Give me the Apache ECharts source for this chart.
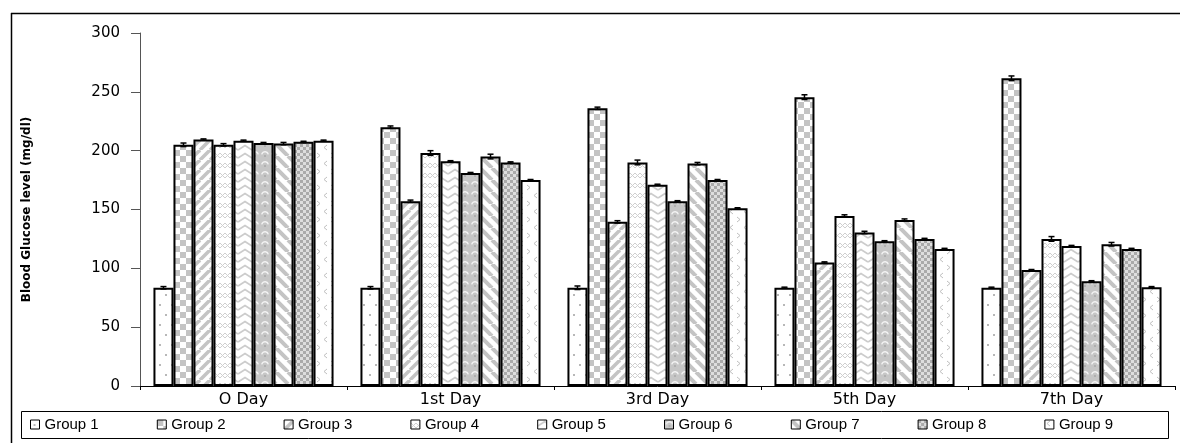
<!DOCTYPE html>
<html>
<head>
<meta charset="utf-8">
<script src="https://cdn.jsdelivr.net/npm/echarts@6/dist/echarts.min.js"></script>
<style>
html,body{margin:0;padding:0;background:#fff;}
#chart{width:1180px;height:443px;}
</style>
</head>
<body>
<div id="chart"></div>
<script>
const categories = ['O Day', '1st Day', '3rd Day', '5th Day', '7th Day'];
const groups = ['Group 1', 'Group 2', 'Group 3', 'Group 4', 'Group 5', 'Group 6', 'Group 7', 'Group 8', 'Group 9'];
const yTicks = [0, 50, 100, 150, 200, 250, 300];
const yAxisTitle = 'Blood Glucose level (mg/dl)';

const group1 = [83.5, 83.5, 83.5, 83.5, 83.5];
const group2 = [205, 220, 236, 245.5, 261.5];
const group3 = [209.5, 157, 139.5, 105, 98.5];
const group4 = [205, 198, 190, 144.5, 125];
const group5 = [208.5, 191, 171, 130.5, 119];
const group6 = [206.5, 181, 157, 123, 89];
const group7 = [206, 195, 189, 141, 120.5];
const group8 = [207.5, 190, 175, 125, 116.5];
const group9 = [208.5, 175, 151, 116.5, 84];

const err1 = [1, 1, 1.5, 0.5, 0.5];
const err2 = [1.5, 1, 1, 2, 2];
const err3 = [0.5, 1, 1, 0.5, 0.5];
const err4 = [1, 2, 2, 1, 2];
const err5 = [0.5, 0.5, 0.5, 1, 0.5];
const err6 = [0.5, 0.5, 0.5, 0.5, 0.5];
const err7 = [1, 2, 1, 1, 1.5];
const err8 = [0.5, 0.5, 0.5, 0.5, 0.5];
const err9 = [0.5, 0.5, 0.5, 0.5, 0.5];

const values = [group1, group2, group3, group4, group5, group6, group7, group8, group9];
const errors = [err1, err2, err3, err4, err5, err6, err7, err8, err9];

function tile(w, h, draw) {
  const c = document.createElement('canvas');
  c.width = w; c.height = h;
  const ctx = c.getContext('2d');
  ctx.fillStyle = '#fff';
  ctx.fillRect(0, 0, w, h);
  draw(ctx, w, h);
  return { image: c, repeat: 'repeat' };
}
const G = '#c4c4c4';
const patterns = [
  tile(12, 20, (x) => { x.fillStyle = '#b8b8b8'; x.fillRect(3, 4, 2, 2); x.fillRect(9, 14, 2, 2); }),
  tile(12, 12, (x) => { x.fillStyle = G; x.fillRect(0, 0, 6, 6); x.fillRect(6, 6, 6, 6); }),
  tile(10, 10, (x) => { x.strokeStyle = G; x.lineWidth = 3.5; for (let k = -10; k <= 20; k += 10) { x.beginPath(); x.moveTo(k, 10); x.lineTo(k + 10, 0); x.stroke(); } }),
  tile(10, 10, (x) => { x.strokeStyle = '#cfcfcf'; x.lineWidth = 1; x.beginPath(); x.moveTo(0, 8); x.lineTo(5, 3); x.lineTo(10, 8); x.stroke(); x.beginPath(); x.moveTo(0, 3); x.lineTo(5, 8); x.lineTo(10, 3); x.stroke(); }),
  tile(14, 8, (x) => { x.strokeStyle = '#cccccc'; x.lineWidth = 1.8; x.beginPath(); x.moveTo(0, 6); x.lineTo(7, 1.5); x.lineTo(14, 6); x.stroke(); }),
  tile(10, 10, (x) => { x.fillStyle = '#c6c6c6'; x.fillRect(0, 0, 10, 10); x.strokeStyle = '#f2f2f2'; x.lineWidth = 1.5; x.beginPath(); x.arc(5, 5, 3.3, Math.PI * 1.05, Math.PI * 1.95); x.stroke(); x.fillStyle = '#b0b0b0'; x.fillRect(4, 5, 2, 2); }),
  tile(12, 12, (x) => { x.strokeStyle = G; x.lineWidth = 4; for (let k = -12; k <= 24; k += 12) { x.beginPath(); x.moveTo(k, 0); x.lineTo(k + 12, 12); x.stroke(); } }),
  tile(6, 6, (x) => { x.fillStyle = '#aaaaaa'; x.fillRect(0, 0, 3, 3); x.fillRect(3, 3, 3, 3); x.fillStyle = '#dedede'; x.fillRect(3, 0, 3, 3); x.fillRect(0, 3, 3, 3); }),
  tile(14, 16, (x) => { x.strokeStyle = '#c0c0c0'; x.lineWidth = 1; x.beginPath(); x.moveTo(5, 1); x.lineTo(2, 3.5); x.lineTo(5, 6); x.stroke(); x.beginPath(); x.moveTo(9, 9); x.lineTo(12, 11.5); x.lineTo(9, 14); x.stroke(); })
];

const GAP = 0.13;
const barSeries = groups.map((g, i) => ({
  name: g,
  type: 'bar',
  data: values[i],
  barGap: 0,
  barCategoryGap: (GAP * 100) + '%',
  itemStyle: { color: patterns[i], borderColor: '#000', borderWidth: 2 },
  emphasis: { disabled: true },
  z: 2
}));

const errData = [];
values.forEach((arr, si) => arr.forEach((v, ci) => errData.push([ci, v, errors[si][ci], si])));

const errSeries = {
  name: 'errors',
  type: 'custom',
  data: errData,
  encode: { x: 0, y: 1 },
  z: 5,
  silent: true,
  renderItem: function (params, api) {
    const ci = api.value(0), v = api.value(1), e = api.value(2), si = api.value(3);
    const bw = api.size([1, 0])[0] * (1 - GAP) / 9;
    const c = api.coord([ci, v]);
    const x = c[0] + (si - 4) * bw;
    const top = api.coord([ci, v + e])[1];
    const bot = api.coord([ci, v - e])[1];
    const st = { stroke: '#000', lineWidth: 1.5 };
    return {
      type: 'group',
      children: [
        { type: 'line', shape: { x1: x, y1: top, x2: x, y2: bot }, style: st },
        { type: 'line', shape: { x1: x - 3, y1: top, x2: x + 3, y2: top }, style: st },
        { type: 'line', shape: { x1: x - 3, y1: bot, x2: x + 3, y2: bot }, style: st }
      ]
    };
  }
};

const legends = groups.map((g, i) => ({
  data: [g],
  left: 30 + 126.8 * i,
  top: 417,
  padding: 0,
  icon: 'rect',
  itemWidth: 9,
  itemHeight: 9,
  itemGap: 0,
  selectedMode: false,
  itemStyle: { borderColor: '#000', borderWidth: 1 },
  textStyle: { fontFamily: 'Liberation Sans', fontSize: 15, color: '#000', padding: [0, 0, 0, 0] }
}));

const chart = echarts.init(document.getElementById('chart'), null, { renderer: 'canvas' });
chart.setOption({
  animation: false,
  backgroundColor: '#fff',
  grid: { left: 140, right: 5, top: 33, bottom: 57, containLabel: false },
  legend: legends,
  xAxis: {
    type: 'category',
    data: categories,
    axisLine: { lineStyle: { color: '#000', width: 1 } },
    axisTick: { show: true, length: 4, lineStyle: { color: '#000' } },
    axisLabel: { fontFamily: 'DejaVu Sans', fontSize: 16, color: '#000', margin: 6 },
    splitLine: { show: false }
  },
  yAxis: {
    type: 'value',
    min: yTicks[0],
    max: yTicks[yTicks.length - 1],
    interval: yTicks[1] - yTicks[0],
    name: yAxisTitle,
    nameLocation: 'middle',
    nameRotate: 90,
    nameGap: 107,
    nameTextStyle: { fontFamily: 'DejaVu Sans', fontWeight: 'bold', fontSize: 12, color: '#000' },
    axisLine: { show: true, lineStyle: { color: '#555', width: 1 } },
    axisTick: { show: true, length: 9, lineStyle: { color: '#555' } },
    axisLabel: { fontFamily: 'DejaVu Sans', fontSize: 15, color: '#000', margin: 20 },
    splitLine: { show: false }
  },
  graphic: [
    { type: 'line', shape: { x1: 11.5, y1: 13, x2: 11.5, y2: 443 }, style: { stroke: '#000', lineWidth: 1.5 }, z: 10 },
    { type: 'line', shape: { x1: 11, y1: 13.5, x2: 1180, y2: 13.5 }, style: { stroke: '#000', lineWidth: 1.5 }, z: 10 },
    { type: 'rect', shape: { x: 21.5, y: 411.5, width: 1147, height: 27 }, style: { fill: 'none', stroke: '#000', lineWidth: 1 }, z: 10 }
  ],
  series: barSeries.concat([errSeries])
});
</script>
</body>
</html>
